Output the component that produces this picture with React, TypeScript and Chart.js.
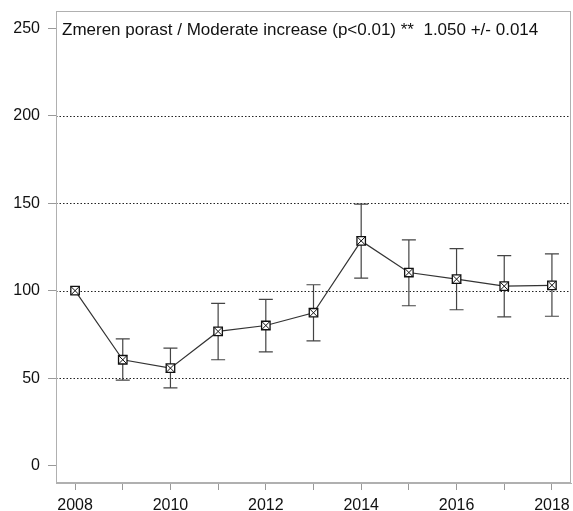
import React, { useEffect, useRef } from "react";
import { Chart, registerables } from "chart.js";

Chart.register(...registerables);

const years = [2008, 2009, 2010, 2011, 2012, 2013, 2014, 2015, 2016, 2017, 2018];
const values = [100, 60.5, 55.7, 76.7, 80.1, 87.4, 128.5, 110.4, 106.6, 102.6, 103.1];
const lower = [null, 48.8, 44.4, 60.5, 65.0, 71.3, 107.2, 91.4, 89.1, 85.0, 85.4];
const upper = [null, 72.5, 67.1, 92.7, 95.0, 103.4, 149.5, 129.1, 124.1, 120.1, 121.1];
const yTicks = [0, 50, 100, 150, 200, 250];
const gridValues = [50, 100, 150, 200];
const annotation = "Zmeren porast / Moderate increase (p<0.01) **  1.050 +/- 0.014";

const FONT = "'Liberation Sans', Arial, Helvetica, sans-serif";

const extrasPlugin = {
  id: "extras",
  beforeDatasetsDraw(chart: any) {
    const { ctx, chartArea, scales } = chart;
    const x = scales.x;
    const y = scales.y;
    ctx.save();
    // dotted grid lines
    ctx.strokeStyle = "#222";
    ctx.lineWidth = 1;
    ctx.setLineDash([1.5, 2]);
    gridValues.forEach((v) => {
      const py = Math.round(y.getPixelForValue(v)) + 0.5;
      ctx.beginPath();
      ctx.moveTo(chartArea.left, py);
      ctx.lineTo(chartArea.right, py);
      ctx.stroke();
    });
    ctx.setLineDash([]);
    // box
    ctx.strokeStyle = "#b0b0b0";
    ctx.strokeRect(chartArea.left + 0.5, chartArea.top + 0.5, chartArea.right - chartArea.left - 1, chartArea.bottom - chartArea.top - 1);
    // error bars
    ctx.strokeStyle = "#444";
    ctx.lineWidth = 1.2;
    years.forEach((yr, i) => {
      const lo = lower[i];
      const hi = upper[i];
      if (lo == null || hi == null) return;
      const px = x.getPixelForValue(yr);
      const pLo = y.getPixelForValue(lo);
      const pHi = y.getPixelForValue(hi);
      ctx.beginPath();
      ctx.moveTo(px, pLo);
      ctx.lineTo(px, pHi);
      ctx.moveTo(px - 7, pLo);
      ctx.lineTo(px + 7, pLo);
      ctx.moveTo(px - 7, pHi);
      ctx.lineTo(px + 7, pHi);
      ctx.stroke();
    });
    // annotation text
    ctx.fillStyle = "#111";
    ctx.font = `17px ${FONT}`;
    ctx.textAlign = "left";
    ctx.textBaseline = "middle";
    ctx.fillText(annotation, chartArea.left + 6, y.getPixelForValue(250) + 2);
    ctx.restore();
  },
};

export default function App() {
  const ref = useRef<HTMLCanvasElement | null>(null);
  useEffect(() => {
    if (!ref.current) return;
    const pts = years.map((yr, i) => ({ x: yr, y: values[i] }));
    const chart = new Chart(ref.current, {
      type: "line",
      data: {
        datasets: [
          {
            data: pts,
            showLine: false,
            pointStyle: "crossRot",
            pointRadius: 6,
            pointBorderColor: "#111",
            pointBorderWidth: 1,
          },
          {
            data: pts,
            borderColor: "#333",
            borderWidth: 1.2,
            pointStyle: "rect",
            pointRadius: 6,
            pointBorderColor: "#111",
            pointBackgroundColor: "#fff",
            pointBorderWidth: 1.3,
          },
        ],
      },
      plugins: [extrasPlugin],
      options: {
        animation: false,
        responsive: false,
        layout: { autoPadding: false, padding: { top: 11, right: 2, left: 0, bottom: 0 } },
        plugins: { legend: { display: false }, tooltip: { enabled: false } },
        scales: {
          x: {
            type: "linear",
            min: 2007.6,
            max: 2018.4,
            afterBuildTicks: (s: any) => {
              s.ticks = years.map((v) => ({ value: v }));
            },
            afterFit: (s: any) => {
              s.height = 28;
              s.paddingLeft = 0;
              s.paddingRight = 0;
            },
            ticks: {
              autoSkip: false,
              maxRotation: 0,
              padding: 6,
              color: "#111",
              font: { family: FONT, size: 16 },
              callback: (v: any) => (Number(v) % 2 === 0 ? String(v) : ""),
            },
            grid: { drawOnChartArea: false, tickLength: 7, tickColor: "#999", color: "#999" },
            border: { color: "#b0b0b0" },
          },
          y: {
            min: -10,
            max: 260,
            afterBuildTicks: (s: any) => {
              s.ticks = yTicks.map((v) => ({ value: v }));
            },
            afterFit: (s: any) => {
              s.width = 56;
              s.paddingTop = 0;
              s.paddingBottom = 0;
            },
            ticks: {
              padding: 8,
              color: "#111",
              font: { family: FONT, size: 16 },
              callback: (v: any) => String(v),
            },
            grid: { drawOnChartArea: false, tickLength: 8, tickColor: "#999", color: "#999" },
            border: { color: "#b0b0b0" },
          },
        },
      },
    } as any);
    return () => chart.destroy();
  }, []);
  return (
    <div style={{ position: "absolute", left: 0, top: 0, width: 573, height: 511, background: "#fff" }}>
      <canvas ref={ref} width={573} height={511} style={{ display: "block" }} />
    </div>
  );
}
